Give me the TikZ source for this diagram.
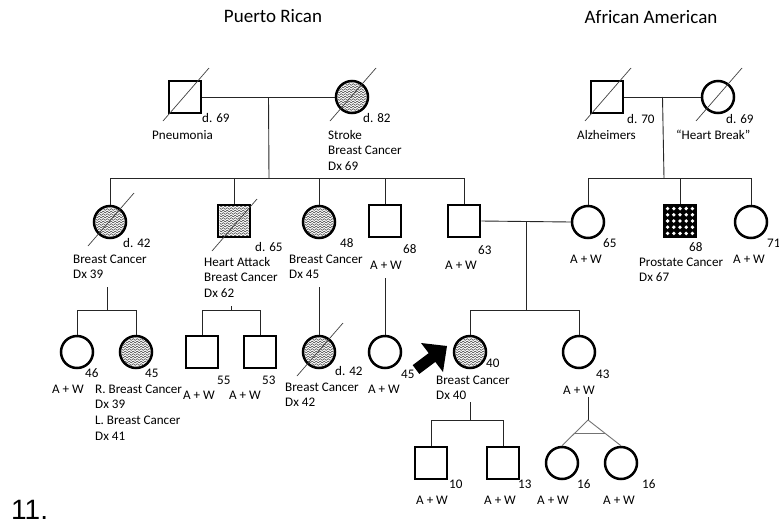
\documentclass[tikz,border=0pt]{standalone}
\usepackage{fontspec}
\setmainfont{Carlito}
\newfontfamily\arialf{Liberation Sans}
\usetikzlibrary{calc,decorations.pathmorphing}
\newcommand\mlab[1]{\begin{tabular}[t]{@{}l@{}}#1\end{tabular}}
\newcommand\wavecirc[1]{%
  \begin{scope}
    \clip (#1.center) circle (14.5);
    \foreach \k in {-15,-12.5,...,15} \draw[wavy] ($(#1.center)+(-20,\k)$) -- ++(40,0);
  \end{scope}}
\newcommand\wavesq[1]{%
  \begin{scope}
    \clip ($(#1.center)+(-14.5,-14.5)$) rectangle ($(#1.center)+(14.5,14.5)$);
    \foreach \k in {-15,-12.5,...,15} \draw[wavy] ($(#1.center)+(-20,\k)$) -- ++(40,0);
  \end{scope}}
\newcommand\deadline[1]{\draw[dead] ($(#1.center)+(-22,24)$) -- ($(#1.center)+(24,-29)$);}
\begin{document}
\begin{tikzpicture}[x=1pt,y=-1pt,
  sym/.style={draw=black, line width=2.5pt, minimum size=32pt, inner sep=0pt},
  male/.style={sym, rectangle},
  female/.style={sym, circle},
  conn/.style={draw=black!85, line width=0.9pt},
  twin/.style={draw=black!55, line width=0.9pt},
  dead/.style={draw=black!75, line width=0.7pt},
  wavy/.style={draw=black!75, line width=0.5pt, decorate,
    decoration={snake, segment length=4pt, amplitude=0.9pt}},
  lbl/.style={anchor=base west, inner sep=0pt, font=\fontsize{13.1}{15.8}\selectfont},
  ttl/.style={anchor=base, inner sep=0pt, font=\fontsize{19}{22}\selectfont}]
\useasboundingbox (0,0) rectangle (779,528);

% titles
\node[ttl] (tPR) at (273,22) {Puerto Rican};
\node[ttl] (tAA) at (651,23) {African American};

% generation 1
\node[male] (pgf) at (185,97) {};
\node[female] (pgm) at (352,97) {};
\node[male] (agf) at (607,97) {};
\node[female] (agm) at (718,97) {};

% generation 2
\node[female] (c21) at (110,222) {};
\node[male] (s22) at (234,221) {};
\node[female] (c23) at (319,222) {};
\node[male] (s24) at (385,221) {};
\node[male] (s25) at (464,221) {};
\node[female] (c26) at (588,222) {};
\node[male, fill=black] (s27) at (680,221) {};
\node[female] (c28) at (751,222) {};

% generation 3
\node[female] (c31) at (77,352) {};
\node[female] (c32) at (136,352) {};
\node[male] (s33) at (202,352) {};
\node[male] (s34) at (260,352) {};
\node[female] (c35) at (319,352) {};
\node[female] (c36) at (385,352) {};
\node[female] (c37) at (470,352) {};
\node[female] (c38) at (579,352) {};

% generation 4
\node[male] (s41) at (431,463) {};
\node[male] (s42) at (503,463) {};
\node[female] (c43) at (562,463) {};
\node[female] (c44) at (621,463) {};

% patterns
\wavecirc{pgm}
\wavecirc{c21}
\wavesq{s22}
\wavecirc{c23}
\wavecirc{c32}
\wavecirc{c35}
\wavecirc{c37}
\foreach \i in {-12.4,-6.2,0,6.2,12.4}
  \foreach \j in {-12.4,-6.2,0,6.2,12.4}
    \fill[white] ($(s27.center)+(\i,\j)$) circle (1.9);

% deceased
\deadline{pgf}
\deadline{pgm}
\deadline{agf}
\deadline{agm}
\deadline{c21}
\deadline{c35}
\draw[dead] ($(s22.center)+(-22,30)$) -- ($(s22.center)+(23,-22)$);

% junction coordinates
\coordinate (pm) at ($(pgf.east)!0.5!(pgm.west)$);
\coordinate (psib) at (269,178);
\coordinate (am) at ($(agf.east)!0.5!(agm.west)$);
\coordinate (asib) at (664,178);
\coordinate (cm) at ($(s25.east)!0.5!(c26.west)$);
\coordinate (csib) at (526,310);
\coordinate (d21) at (107,287);
\coordinate (j21) at (107,310);
\coordinate (d22) at (231,306);
\coordinate (j22) at (231,310);
\coordinate (d23) at (319,287);
\coordinate (d24) at (385,278);
\coordinate (d37) at (470,402);
\coordinate (j37) at (470,420);
\coordinate (d38) at (588,397);
\coordinate (apex) at (588,420);

% connectors gen 1 -> 2
\draw[conn] (pgf.east) -- (pgm.west);
\draw[conn] (pm) -- (psib);
\draw[conn] (c21 |- psib) -- (s25 |- psib);
\foreach \n in {c21,s22,c23,s24,s25} \draw[conn] (\n |- psib) -- (\n.north);
\draw[conn] (agf.east) -- (agm.west);
\draw[conn] (am) -- (asib);
\draw[conn] (c26 |- asib) -- (c28 |- asib);
\foreach \n in {c26,s27,c28} \draw[conn] (\n |- asib) -- (\n.north);

% connectors gen 2 -> 3
\draw[conn] (s25.east) -- (c26.west);
\draw[conn] (cm) -- (csib);
\draw[conn] (c37 |- csib) -- (c38 |- csib);
\foreach \n in {c37,c38} \draw[conn] (\n |- csib) -- (\n.north);
\draw[conn] (d21) -- (j21);
\draw[conn] (c31 |- j21) -- (c32 |- j21);
\foreach \n in {c31,c32} \draw[conn] (\n |- j21) -- (\n.north);
\draw[conn] (d22) -- (j22);
\draw[conn] (s33 |- j22) -- (s34 |- j22);
\foreach \n in {s33,s34} \draw[conn] (\n |- j22) -- (\n.north);
\draw[conn] (d23) -- (c35.north);
\draw[conn] (d24) -- (c36.north);

% connectors gen 3 -> 4
\draw[conn] (d37) -- (j37);
\draw[conn] (s41 |- j37) -- (s42 |- j37);
\foreach \n in {s41,s42} \draw[conn] (\n |- j37) -- (\n.north);
\draw[conn] (d38) -- (apex);
\draw[twin] (apex) -- (c43.north);
\draw[twin] (apex) -- (c44.north);
\draw[twin] ($(apex)!0.52!(c43.north)$) -- ($(apex)!0.52!(c44.north)$);

% proband arrow
\fill[black] (447,346) -- (421,343) -- (428.7,353.1) -- (412.7,365.1)
  -- (419.3,373.9) -- (435.3,361.9) -- (443,372) -- cycle;

% labels gen 1
\node[lbl] (l1) at (202,122) {d. 69};
\node[lbl] (l2) at (152,139) {Pneumonia};
\node[lbl] (l3) at (363,122) {d. 82};
\node[lbl] (l4) at (328,139) {\mlab{Stroke\\Breast Cancer\\Dx 69}};
\node[lbl] (l5) at (627,123) {d. 70};
\node[lbl] (l6) at (577,139) {Alzheimers};
\node[lbl] (l7) at (726,123) {d. 69};
\node[lbl] (l8) at (676,139) {“Heart Break”};

% labels gen 2
\node[lbl] (l9) at (123,247) {d. 42};
\node[lbl] (l10) at (73,263) {\mlab{Breast Cancer\\Dx 39}};
\node[lbl] (l11) at (255,251) {d. 65};
\node[lbl] (l12) at (204,266) {\mlab{Heart Attack\\Breast Cancer\\Dx 62}};
\node[lbl] (l13) at (340,247) {48};
\node[lbl] (l14) at (289,263) {\mlab{Breast Cancer\\Dx 45}};
\node[lbl] (l15) at (403,253) {68};
\node[lbl] (l16) at (370,269) {A + W};
\node[lbl] (l17) at (478,254) {63};
\node[lbl] (l18) at (445,269) {A + W};
\node[lbl] (l19) at (603,247) {65};
\node[lbl] (l20) at (570,263) {A + W};
\node[lbl] (l21) at (689,251) {68};
\node[lbl] (l22) at (639,266) {\mlab{Prostate Cancer\\Dx 67}};
\node[lbl] (l23) at (767,247) {71};
\node[lbl] (l24) at (733,263) {A + W};

% labels gen 3
\node[lbl] (l25) at (85,377) {46};
\node[lbl] (l26) at (52,393) {A + W};
\node[lbl] (l27) at (145,377) {45};
\node[lbl] (l28) at (95,393) {\mlab{R. Breast Cancer\\Dx 39\\L. Breast Cancer\\Dx 41}};
\node[lbl] (l29) at (217,384) {55};
\node[lbl] (l30) at (183,399) {A + W};
\node[lbl] (l31) at (262,384) {53};
\node[lbl] (l32) at (229,399) {A + W};
\node[lbl] (l33) at (335,375) {d. 42};
\node[lbl] (l34) at (285,391) {\mlab{Breast Cancer\\Dx 42}};
\node[lbl] (l35) at (401,378) {45};
\node[lbl] (l36) at (368,393) {A + W};
\node[lbl] (l37) at (486,367) {40};
\node[lbl] (l38) at (436,384) {\mlab{Breast Cancer\\Dx 40}};
\node[lbl] (l39) at (596,378) {43};
\node[lbl] (l40) at (563,394) {A + W};

% labels gen 4
\node[lbl] (l41) at (449,488) {10};
\node[lbl] (l42) at (416,504) {A + W};
\node[lbl] (l43) at (518,488) {13};
\node[lbl] (l44) at (484,504) {A + W};
\node[lbl] (l45) at (577,488) {16};
\node[lbl] (l46) at (537,504) {A + W};
\node[lbl] (l47) at (642,488) {16};
\node[lbl] (l48) at (603,504) {A + W};

% figure number
\node[anchor=base west, inner sep=0pt, font=\arialf\fontsize{28}{30}\selectfont] (num) at (11,519) {11.};
\end{tikzpicture}
\end{document}
